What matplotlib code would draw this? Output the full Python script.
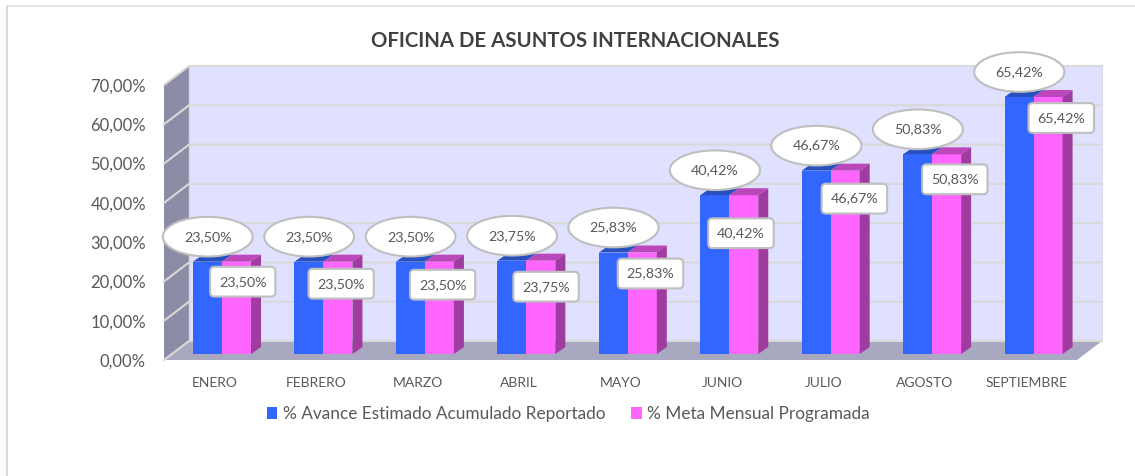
import matplotlib
matplotlib.use("Agg")
import matplotlib.pyplot as plt
from matplotlib.lines import Line2D

# data
months = ["ENERO", "FEBRERO", "MARZO", "ABRIL", "MAYO", "JUNIO", "JULIO", "AGOSTO", "SEPTIEMBRE"]
avance = [23.50, 23.50, 23.50, 23.75, 25.83, 40.42, 46.67, 50.83, 65.42]
meta = [23.50, 23.50, 23.50, 23.75, 25.83, 40.42, 46.67, 50.83, 65.42]
yticks = [0, 10, 20, 30, 40, 50, 60, 70]

# pixel offset of each rounded label from its month centre / bar top
box_dx = [28, 25, 25, 27, 30, 19, 31, 30, 35]
box_dy = [-19, -21, -22, -25, -20, -37, -27, -24, -20]

W, H = 1135, 476
TXT = "#595959"
plt.rcParams["font.family"] = ["Lato", "DejaVu Sans"]

fig = plt.figure(figsize=(W / 100, H / 100), dpi=100)
ax = fig.add_axes([164 / W, (H - 360) / H, 913 / W, 275 / H])
ax.set_xlim(-0.5, 8.5)
ax.set_ylim(0, 70)
ax.patch.set_visible(False)
for s in ax.spines.values():
    s.set_visible(False)

# pixels to data units
px = 9 / 913
py = 70 / 275
box_x = 25 * px  # depth of the 3d box
box_y = 19 * py
left, right = -0.5, 8.5

# walls and floor
ax.fill([left + box_x, right + box_x, right + box_x, left + box_x],
        [box_y, box_y, 70 + box_y, 70 + box_y], color="#E0E0FF", lw=0, zorder=1, clip_on=False)
ax.fill([left, left + box_x, left + box_x, left],
        [0, box_y, 70 + box_y, 70], color="#8C8CA6", lw=0, zorder=1, clip_on=False)
ax.fill([left, right, right + box_x, left + box_x],
        [0, 0, box_y, box_y], color="#A8A8C0", lw=0, zorder=2, clip_on=False)

# gridlines run along the left wall then across the back wall
for t in yticks:
    ax.plot([left, left + box_x, right + box_x], [t, t + box_y, t + box_y],
            color="#D9D9D9", lw=1.5, zorder=2.5 if t == 0 else 1.5, clip_on=False, solid_joinstyle="miter")
ax.plot([left + box_x, left + box_x], [box_y, 70 + box_y], color="#D9D9D9", lw=1.0, zorder=1.5, clip_on=False)
ax.plot([right + box_x, right + box_x], [box_y, 70 + box_y], color="#DCDCEC", lw=0.8, zorder=1.5, clip_on=False)

# bars sit a little way into the box
bar_w = 29 * px
shift_x = 7.3 * px
base = 6 * py
side_x = 10 * px
side_y = 7 * py
xs = list(range(len(months)))

bars_a = ax.bar([x + shift_x - bar_w / 2 for x in xs], avance, bar_w, bottom=base,
                color="#3366FF", lw=0, zorder=4, label="% Avance Estimado Acumulado Reportado")
bars_m = ax.bar([x + shift_x + bar_w / 2 for x in xs], meta, bar_w, bottom=base,
                color="#FF66FF", lw=0, zorder=4, label="% Meta Mensual Programada")

for x, a, m in zip(xs, avance, meta):
    x0 = x + shift_x - bar_w
    x1 = x + shift_x
    x2 = x + shift_x + bar_w
    ta = a + base
    tm = m + base
    ax.fill([x0, x1, x1 + side_x, x0 + side_x], [ta, ta, ta + side_y, ta + side_y],
            color="#2850BE", lw=0, zorder=4)
    ax.fill([x1, x2, x2 + side_x, x1 + side_x], [tm, tm, tm + side_y, tm + side_y],
            color="#BB47BB", lw=0, zorder=4)
    ax.fill([x2, x2 + side_x, x2 + side_x, x2], [base, base + side_y, tm + side_y, tm],
            color="#A03BA0", lw=0, zorder=4)

# data labels
for x, a, m, dx, dy in zip(xs, avance, meta, box_dx, box_dy):
    ax.annotate(f"{a:.2f}%".replace(".", ","), (x, a + base), xytext=(-7, 25),
                textcoords="offset pixels", ha="center", va="center", fontsize=10.3, color=TXT, zorder=6,
                bbox=dict(boxstyle="ellipse,pad=0.56", fc="white", ec="#BFBFBF", lw=1.5))
    ax.annotate(f"{m:.2f}%".replace(".", ","), (x, m + base), xytext=(dx, dy - 1),
                textcoords="offset pixels", ha="center", va="center", fontsize=10.3, color=TXT, zorder=6,
                bbox=dict(boxstyle="round,pad=0.62,rounding_size=0.3", fc="white", ec="#BFBFBF", lw=1.5))

ax.set_yticks(yticks)
ax.set_yticklabels([f"{t:.2f}%".replace(".", ",") for t in yticks], fontsize=12, color=TXT)
ax.set_xticks(xs)
ax.set_xticklabels(months, fontsize=10, color=TXT)
ax.tick_params(axis="both", length=0)
ax.tick_params(axis="y", pad=13)
ax.tick_params(axis="x", pad=12)

fig.text(575 / W, 1 - 41 / H, "OFICINA DE ASUNTOS INTERNACIONALES", ha="center", va="center",
         fontsize=14.7, fontweight="bold", color="#404040")

fig.legend(handles=[bars_a, bars_m], loc="center", bbox_to_anchor=(568 / W, 1 - 414 / H), ncol=2,
           frameon=False, fontsize=12.4, labelcolor=TXT, handlelength=0.62, handleheight=0.62,
           handletextpad=0.3, columnspacing=1.5)

# chart frame
fig.add_artist(Line2D([7 / W, 7 / W], [0, 1 - 6 / H], color="#D9D9D9", lw=1.5))
fig.add_artist(Line2D([7 / W, 1], [1 - 6 / H, 1 - 6 / H], color="#E0E0E0", lw=1.2))

fig.savefig("out.png", dpi=100)
